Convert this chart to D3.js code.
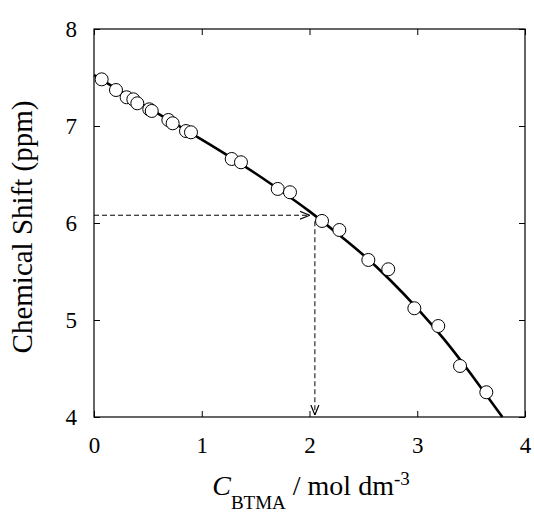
<!DOCTYPE html>
<html>
<head>
<meta charset="utf-8">
<script src="https://cdn.jsdelivr.net/npm/d3@7"></script>
<style>
  body { margin: 0; background: #fff; }
</style>
</head>
<body>
<svg id="chart" width="534" height="512"></svg>
<script>
// measured points (C_BTMA / mol dm-3, chemical shift / ppm)
const concData = [0.071, 0.204, 0.303, 0.365, 0.402, 0.513, 0.536, 0.690, 0.730, 0.854, 0.900,
                  1.278, 1.364, 1.705, 1.819, 2.116, 2.277, 2.546, 2.731, 2.973, 3.195, 3.397, 3.641];
const shiftData = [7.481, 7.371, 7.296, 7.275, 7.234, 7.172, 7.155, 7.062, 7.028, 6.948, 6.935,
                   6.660, 6.626, 6.351, 6.317, 6.021, 5.928, 5.619, 5.523, 5.121, 4.938, 4.526, 4.255];

// fitted curve
const fitConc = [0, 0.25, 0.5, 0.75, 1.0, 1.25, 1.5, 1.75, 2.0, 2.25, 2.5, 2.75, 3.0, 3.25, 3.5, 3.79];
const fitShift = [7.525, 7.355, 7.19, 7.025, 6.86, 6.69, 6.51, 6.32, 6.12, 5.90, 5.67, 5.41, 5.12, 4.80, 4.44, 4.0];

// read-off guide (dashed arrows)
const guideConc = 2.05;
const guideShift = 6.08;

const xTicks = [0, 1, 2, 3, 4];
const yTicks = [4, 5, 6, 7, 8];

const FONT = '"Liberation Serif"';

const margin = {top: 29, right: 9, bottom: 95, left: 94};
const width = 534 - margin.left - margin.right;
const height = 512 - margin.top - margin.bottom;

const svg = d3.select('#chart');

const defs = svg.append('defs');
defs.append('marker')
    .attr('id', 'arrow')
    .attr('viewBox', '0 0 10 10')
    .attr('refX', 10).attr('refY', 5)
    .attr('markerWidth', 10).attr('markerHeight', 10)
    .attr('markerUnits', 'userSpaceOnUse')
    .attr('orient', 'auto')
  .append('path')
    .attr('d', 'M0,1 L10,5 L0,9')
    .attr('fill', 'none')
    .attr('stroke', '#000')
    .attr('stroke-width', 1.2);

const g = svg.append('g').attr('transform', `translate(${margin.left},${margin.top})`);

const x = d3.scaleLinear().domain([0, 4]).range([0, width]);
const y = d3.scaleLinear().domain([4, 8]).range([height, 0]);

// axes with inward ticks on all four sides
const tickLen = 6;
const fmt = d3.format('d');
g.append('g')
    .attr('transform', `translate(0,${height})`)
    .call(d3.axisBottom(x).tickValues(xTicks).tickSizeInner(-tickLen).tickSizeOuter(0).tickPadding(20).tickFormat(fmt));
g.append('g')
    .call(d3.axisTop(x).tickValues(xTicks).tickSizeInner(-tickLen).tickSizeOuter(0).tickFormat(''));
g.append('g')
    .call(d3.axisLeft(y).tickValues(yTicks).tickSizeInner(-tickLen).tickSizeOuter(0).tickPadding(17).tickFormat(fmt));
g.append('g')
    .attr('transform', `translate(${width},0)`)
    .call(d3.axisRight(y).tickValues(yTicks).tickSizeInner(-tickLen).tickSizeOuter(0).tickFormat(''));

// d3 puts font-family/size on each axis group; override it there
g.selectAll('g')
    .attr('font-family', FONT)
    .attr('font-size', 23);
g.selectAll('.tick text').attr('fill', '#000');
g.selectAll('.domain').remove();
g.selectAll('.tick line').attr('stroke', '#000').attr('stroke-width', 1);

g.append('rect')
    .attr('x', 0).attr('y', 0)
    .attr('width', width).attr('height', height)
    .attr('fill', 'none')
    .attr('stroke', '#000')
    .attr('stroke-width', 1.2);

// dashed guide arrows
g.append('line')
    .attr('x1', x(0)).attr('y1', y(guideShift))
    .attr('x2', x(guideConc) - 5).attr('y2', y(guideShift))
    .attr('stroke', '#000').attr('stroke-width', 1)
    .attr('stroke-dasharray', '5,3')
    .attr('marker-end', 'url(#arrow)');
g.append('line')
    .attr('x1', x(guideConc)).attr('y1', y(guideShift) + 6)
    .attr('x2', x(guideConc)).attr('y2', y(4) - 2)
    .attr('stroke', '#000').attr('stroke-width', 1)
    .attr('stroke-dasharray', '5,3')
    .attr('marker-end', 'url(#arrow)');

// fitted curve
const fit = fitConc.map((c, i) => [c, fitShift[i]]);
g.append('path')
    .datum(fit)
    .attr('fill', 'none')
    .attr('stroke', '#000')
    .attr('stroke-width', 2.6)
    .attr('d', d3.line().x(d => x(d[0])).y(d => y(d[1])).curve(d3.curveNatural));

// data points
const pts = concData.map((c, i) => ({c: c, s: shiftData[i]}));
g.selectAll('circle')
    .data(pts)
    .join('circle')
      .attr('cx', d => x(d.c))
      .attr('cy', d => y(d.s))
      .attr('r', 6.5)
      .attr('fill', '#fff')
      .attr('stroke', '#000')
      .attr('stroke-width', 1);

// axis titles
svg.append('text')
    .attr('transform', 'translate(32,227) rotate(-90)')
    .attr('text-anchor', 'middle')
    .style('font-family', FONT)
    .style('font-size', '29px')
    .text('Chemical Shift (ppm)');

const xt = svg.append('text')
    .attr('x', 311)
    .attr('y', 495)
    .attr('text-anchor', 'middle')
    .style('font-family', FONT)
    .style('font-size', '28px');
xt.append('tspan').style('font-style', 'italic').text('C');
xt.append('tspan').attr('dy', 14).style('font-size', '19px').text('BTMA');
xt.append('tspan').attr('dy', -14).text(' / mol dm');
xt.append('tspan').attr('dy', -10).style('font-size', '19px').text('-3');
</script>
</body>
</html>
